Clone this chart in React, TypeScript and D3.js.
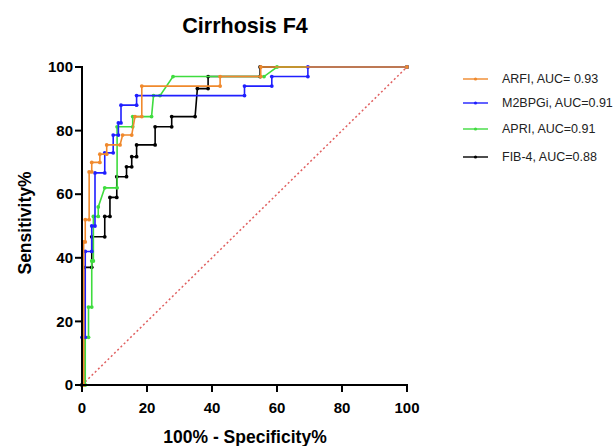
import React from 'react';
import * as d3 from 'd3';

const width = 616;
const height = 446;
const margin = { top: 67, right: 209, bottom: 61, left: 82 };

// ROC step points: [100% - specificity, sensitivity]
const arfi = [
  [0, 0], [0.5, 0], [0.5, 45], [1, 45], [1, 52], [2.2, 52], [2.2, 67], [3, 67], [3, 70],
  [5.5, 70], [5.5, 72.6], [7.6, 72.6], [7.6, 75.5], [11.7, 75.5], [12.5, 78.6], [15.3, 78.6],
  [16.3, 84.4], [18.4, 84.4], [18.4, 94], [42.5, 94], [42.5, 97], [55, 97], [55, 100], [100, 100]
];
const m2bpgi = [
  [0, 0], [0, 15], [1, 15], [1, 42], [3, 42], [3, 50], [4, 50], [4, 66.7], [7, 66.7], [7, 73],
  [9.6, 73], [9.6, 78.6], [11.2, 78.6], [11.2, 82.4], [12, 82.4], [12, 88], [16.8, 88], [16.8, 91],
  [50, 91], [50, 94], [58.4, 94], [58.4, 97], [69.5, 97], [69.5, 100], [100, 100]
];
const apri = [
  [0, 0], [1, 0], [1, 15], [2, 15], [2, 24.5], [3, 24.5], [3, 39], [3.5, 39], [3.5, 53], [5, 53],
  [5, 56], [7, 62], [10.8, 62], [10.8, 81.2], [15.6, 81.2], [15.6, 84.4], [21.4, 84.4], [22, 91],
  [24, 91], [28, 97], [56, 97], [60, 100], [100, 100]
];
const fib4 = [
  [0, 0], [0.5, 0], [0.5, 37], [3, 37], [3, 46.6], [7, 46.6], [7, 53], [8.6, 53], [8.6, 59],
  [10.7, 59], [10.7, 65.5], [13.7, 65.5], [13.7, 68.6], [15.3, 68.6], [15.3, 71.8], [16.8, 71.8],
  [16.8, 75.5], [22.5, 75.5], [22.5, 81.2], [27.6, 81.2], [27.6, 84.4], [34.8, 84.4], [35.5, 93.2],
  [38.8, 93.2], [38.8, 97], [54.8, 97], [54.8, 100], [100, 100]
];

const seriesNames = ['ARFI, AUC= 0.93', 'M2BPGi, AUC=0.91', 'APRI, AUC=0.91', 'FIB-4, AUC=0.88'];
const seriesColors = ['#f0892c', '#1f1fff', '#3fdc3f', '#000000'];
const seriesData = [arfi, m2bpgi, apri, fib4];
const ticks = [0, 20, 40, 60, 80, 100];

export default function App() {
  const innerW = width - margin.left - margin.right;
  const innerH = height - margin.top - margin.bottom;
  const x = d3.scaleLinear().domain([0, 100]).range([0, innerW]);
  const y = d3.scaleLinear().domain([0, 100]).range([innerH, 0]);
  const line = d3.line<number[]>().x(d => x(d[0])).y(d => y(d[1]));
  const font = 'Arial, "Liberation Sans", sans-serif';

  // draw back to front so orange sits on top like the original
  const order = [3, 2, 1, 0];

  return (
    <svg width={width} height={height} style={{ position: 'absolute', left: 0, top: 0 }} fontFamily={font}>
      <rect width={width} height={height} fill="#fff" />
      <text x={245} y={33} textAnchor="middle" fontSize={21.5} fontWeight="bold">Cirrhosis F4</text>
      <g transform={`translate(${margin.left},${margin.top})`}>
        <line x1={x(0)} y1={y(0)} x2={x(100)} y2={y(100)} stroke="#e06060" strokeWidth={1.5} strokeDasharray="2,2.5" />
        {order.map(i => (
          <g key={i}>
            <path d={line(seriesData[i]) || ''} fill="none" stroke={seriesColors[i]} strokeWidth={1.6} />
            {seriesData[i].map((d, j) => (
              <circle key={j} cx={x(d[0])} cy={y(d[1])} r={1.9} fill={seriesColors[i]} />
            ))}
          </g>
        ))}
        {/* y axis */}
        <line x1={0} y1={y(0) + 1} x2={0} y2={y(100) - 1} stroke="#000" strokeWidth={2} />
        {ticks.map(t => (
          <g key={'y' + t} transform={`translate(0,${y(t)})`}>
            <line x1={-7} x2={0} stroke="#000" strokeWidth={2} />
            <text x={-9} dy="0.35em" textAnchor="end" fontSize={15} fontWeight="bold">{t}</text>
          </g>
        ))}
        {/* x axis */}
        <line x1={-1} y1={innerH} x2={x(100) + 1} y2={innerH} stroke="#000" strokeWidth={2} />
        {ticks.map(t => (
          <g key={'x' + t} transform={`translate(${x(t)},${innerH})`}>
            <line y1={0} y2={7} stroke="#000" strokeWidth={2} />
            <text y={28} textAnchor="middle" fontSize={15} fontWeight="bold">{t}</text>
          </g>
        ))}
      </g>
      <text x={245} y={443} textAnchor="middle" fontSize={17.5} fontWeight="bold">100% - Specificity%</text>
      <text transform={`translate(31,223) rotate(-90)`} textAnchor="middle" fontSize={17.5} fontWeight="bold">Sensitivity%</text>
      <g transform="translate(463,0)">
        {seriesNames.map((name, i) => {
          const ly = [79, 103, 129, 157][i];
          return (
            <g key={name} transform={`translate(0,${ly})`}>
              <line x1={0} x2={25} stroke={seriesColors[i]} strokeWidth={1.4} />
              <circle cx={12.5} cy={0} r={1.6} fill={seriesColors[i]} />
              <text x={39} dy="0.35em" fontSize={12.5} fill="#222">{name}</text>
            </g>
          );
        })}
      </g>
    </svg>
  );
}
